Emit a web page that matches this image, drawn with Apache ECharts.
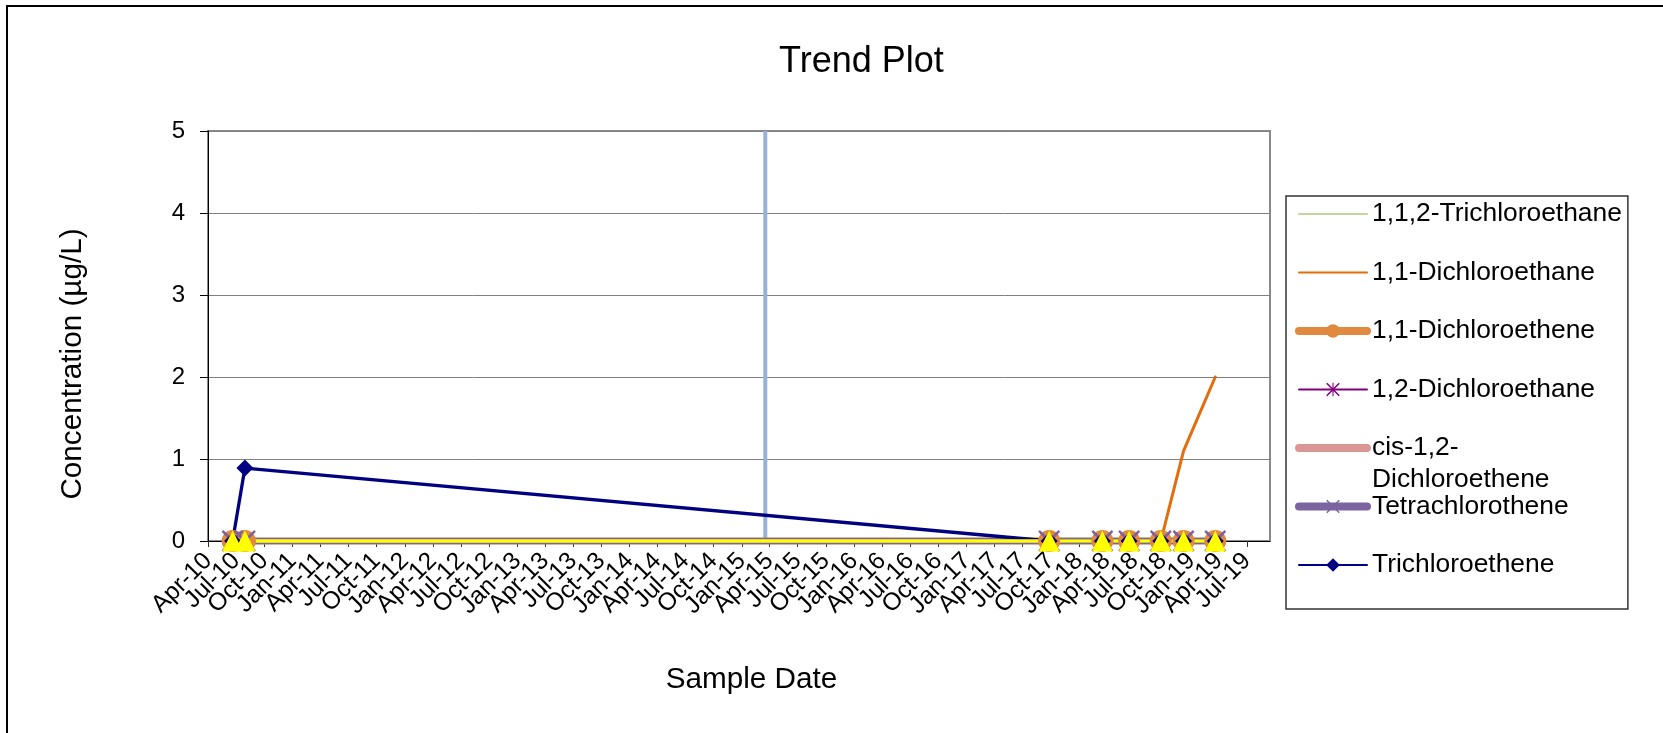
<!DOCTYPE html>
<html>
<head>
<meta charset="utf-8">
<script src="https://cdn.jsdelivr.net/npm/echarts@6/dist/echarts.min.js"></script>
<style>
html,body{margin:0;padding:0;background:#fff;}
#chart{width:1663px;height:733px;}
</style>
</head>
<body>
<div id="chart"></div>
<script>
// ---------- data ----------
const sampleDates = ['2010-06-20','2010-07-30','2017-09-26','2018-03-18','2018-06-13','2018-09-24','2018-12-07','2019-03-20'];
const trichloroethane112 = [0,0,0,0,0,0,0,0];
const dichloroethane11   = [0,0,0,0,0,0,1.1,2.0];
const dichloroethene11   = [0,0,0,0,0,0,0,0];
const dichloroethane12   = [0,0,0,0,0,0,0,0];
const cisDichloroethene  = [0,0,0,0,0,0,0,0];
const tetrachlorothene   = [0,0,0,0,0,0,0,0];
const trichloroethene    = [0,0.89,0,0,0,0,0,0];
const nonDetect          = [0,0,0,0,0,0,0,0];
const eventDate = '2015-03-18';
const eventRange = [0,5];
const tickLabels = ['Apr-10','Jul-10','Oct-10','Jan-11','Apr-11','Jul-11','Oct-11','Jan-12','Apr-12','Jul-12','Oct-12','Jan-13','Apr-13','Jul-13','Oct-13','Jan-14','Apr-14','Jul-14','Oct-14','Jan-15','Apr-15','Jul-15','Oct-15','Jan-16','Apr-16','Jul-16','Oct-16','Jan-17','Apr-17','Jul-17','Oct-17','Jan-18','Apr-18','Jul-18','Oct-18','Jan-19','Apr-19','Jul-19'];
const axisMinDate = '2010-04-01';
const axisMaxDate = '2019-09-14';
const yTicks = [0,1,2,3,4,5];
const legendWrapped = {'cis-1,2-Dichloroethene': ['cis-1,2-', 'Dichloroethene']};

// ---------- helpers ----------
const DAY = 86400000;
const ts = s => { const p = s.split('-').map(Number); return Date.UTC(p[0], p[1]-1, p[2]); };
const MONTHS = {Jan:0,Feb:1,Mar:2,Apr:3,May:4,Jun:5,Jul:6,Aug:7,Sep:8,Oct:9,Nov:10,Dec:11};
const tickTs = tickLabels.map(l => { const [m,y] = l.split('-'); return Date.UTC(2000+Number(y), MONTHS[m], 1); });
const labelFor = v => { let bi=-1, bd=Infinity; tickTs.forEach((t,i)=>{const d=Math.abs(t-v); if(d<bd){bd=d;bi=i;}}); return bd < DAY/2 ? tickLabels[bi] : ''; };
const pts = vals => sampleDates.map((d,i) => [ts(d), vals[i]]);
const xMin = ts(axisMinDate) - 60000;   // tiny lead so the first real label is not the axis-min label
const xMax = ts(axisMaxDate);

const FONT = "'Liberation Sans', Arial, sans-serif";
const X_PATH = 'path://M0,1.6L1.6,0L20,18.4L18.4,20ZM18.4,0L20,1.6L1.6,20L0,18.4Z';
const STAR_PATH = 'path://M0,1.6L1.6,0L20,18.4L18.4,20ZM18.4,0L20,1.6L1.6,20L0,18.4ZM9.2,0H10.8V20H9.2Z';

// legend geometry
const LEG = {left:1286, top:196, padTop:5, padRight:6, padBottom:31, padLeft:9, itemWidth:68, itemHeight:17, gap:32.5, font:26.4};

const chart = echarts.init(document.getElementById('chart'), null, {renderer:'canvas'});

const lineSeries = (name, vals, color, width, symbol, size) => ({
  name, type:'line', data: pts(vals), clip:false,
  symbol: symbol || 'none', symbolSize: size || 0, showSymbol: !!symbol,
  lineStyle:{color, width, join:'round', cap:'round'},
  itemStyle:{color, borderWidth:0},
  emphasis:{disabled:true}, animation:false
});

const cisIndex = 4;
const cisCenterY = LEG.top + LEG.padTop + LEG.font/2 + cisIndex*(LEG.font + LEG.gap);

const option = {
  animation:false,
  textStyle:{fontFamily:FONT},
  title:{
    text:'Trend Plot', left:774, top:39,
    textStyle:{fontFamily:FONT, fontSize:36, fontWeight:'normal', color:'#000'}
  },
  grid:{left:208, top:131, right:393, bottom:192, show:true, borderColor:'#8a8a8a', borderWidth:2, outerBoundsMode:'none'},
  xAxis:{
    type:'value', min:xMin, max:xMax,
    name:'Sample Date', nameLocation:'middle', nameGap:124,
    nameTextStyle:{fontFamily:FONT, fontSize:29.7, color:'#000', padding:[0,0,0,25]},
    axisLine:{show:true, lineStyle:{color:'#000', width:1}},
    axisTick:{show:true, customValues:tickTs, length:6, lineStyle:{color:'#333'}},
    axisLabel:{customValues:[xMin].concat(tickTs, [xMax]), formatter:v=>labelFor(v), rotate:45, margin:16, padding:[23,0,0,0],
      fontFamily:FONT, fontSize:24.5, color:'#000', hideOverlap:false, showMinLabel:false, showMaxLabel:false},
    splitLine:{show:false}
  },
  yAxis:{
    type:'value', min:yTicks[0], max:yTicks[yTicks.length-1], interval:1,
    name:'Concentration (µg/L)', nameLocation:'middle', nameGap:120, nameRotate:90,
    nameTextStyle:{fontFamily:FONT, fontSize:29.7, color:'#000', padding:[0,56,0,0]},
    axisLine:{show:true, lineStyle:{color:'#000', width:1}},
    axisTick:{show:true, length:8, lineStyle:{color:'#000'}},
    axisLabel:{fontFamily:FONT, fontSize:24, color:'#000', margin:23},
    splitLine:{show:true, lineStyle:{color:'#808080', width:1}}
  },
  legend:{
    orient:'vertical', left:LEG.left, top:LEG.top, padding:[LEG.padTop, LEG.padRight, LEG.padBottom, LEG.padLeft],
    itemWidth:LEG.itemWidth, itemHeight:LEG.itemHeight, itemGap:LEG.gap,
    borderColor:'#333', borderWidth:1.5, selectedMode:false,
    textStyle:{fontFamily:FONT, fontSize:LEG.font, color:'#000'},
    lineStyle:{cap:'round'},
    formatter: n => legendWrapped[n] ? legendWrapped[n][0] : n,
    data:[
      {name:'1,1,2-Trichloroethane', itemStyle:{opacity:0}},
      {name:'1,1-Dichloroethane', itemStyle:{opacity:0}},
      {name:'1,1-Dichloroethene', lineStyle:{width:8}},
      {name:'1,2-Dichloroethane'},
      {name:'cis-1,2-Dichloroethene', itemStyle:{opacity:0}, lineStyle:{width:8}},
      {name:'Tetrachlorothene', lineStyle:{width:8}},
      {name:'Trichloroethene'}
    ]
  },
  series:[
    {name:'Event', type:'line', data:[[ts(eventDate), eventRange[0]],[ts(eventDate), eventRange[1]]], symbol:'none', clip:false,
     lineStyle:{color:'#95b3d7', width:4}, emphasis:{disabled:true}, silent:true},
    lineSeries('1,1,2-Trichloroethane', trichloroethane112, '#c3d69b', 3),
    lineSeries('1,1-Dichloroethane', dichloroethane11, '#e46c0a', 3),
    lineSeries('1,1-Dichloroethene', dichloroethene11, '#e0893f', 6.5, 'circle', 22),
    lineSeries('1,2-Dichloroethane', dichloroethane12, '#800080', 3, STAR_PATH, 18),
    lineSeries('cis-1,2-Dichloroethene', cisDichloroethene, '#d99694', 6.5),
    lineSeries('Tetrachlorothene', tetrachlorothene, '#7b64a0', 6.5, X_PATH, 22),
    lineSeries('Trichloroethene', trichloroethene, '#000080', 3.3, 'diamond', 17),
    lineSeries('Non-Detect', nonDetect, '#ffff00', 3.5, 'triangle', 21)
  ],
  graphic:[
    {type:'rect', shape:{x:7, y:6, width:1700, height:800}, style:{fill:'none', stroke:'#000', lineWidth:2}, silent:true, z:-1},
    {type:'text', x:LEG.left + LEG.padLeft + LEG.itemWidth + 9, y:cisCenterY + 30, z:100, silent:true,
     style:{text:legendWrapped['cis-1,2-Dichloroethene'][1], fontFamily:FONT, fontSize:LEG.font, fill:'#000', verticalAlign:'middle', align:'left'}}
  ]
};
chart.setOption(option);
</script>
</body>
</html>
